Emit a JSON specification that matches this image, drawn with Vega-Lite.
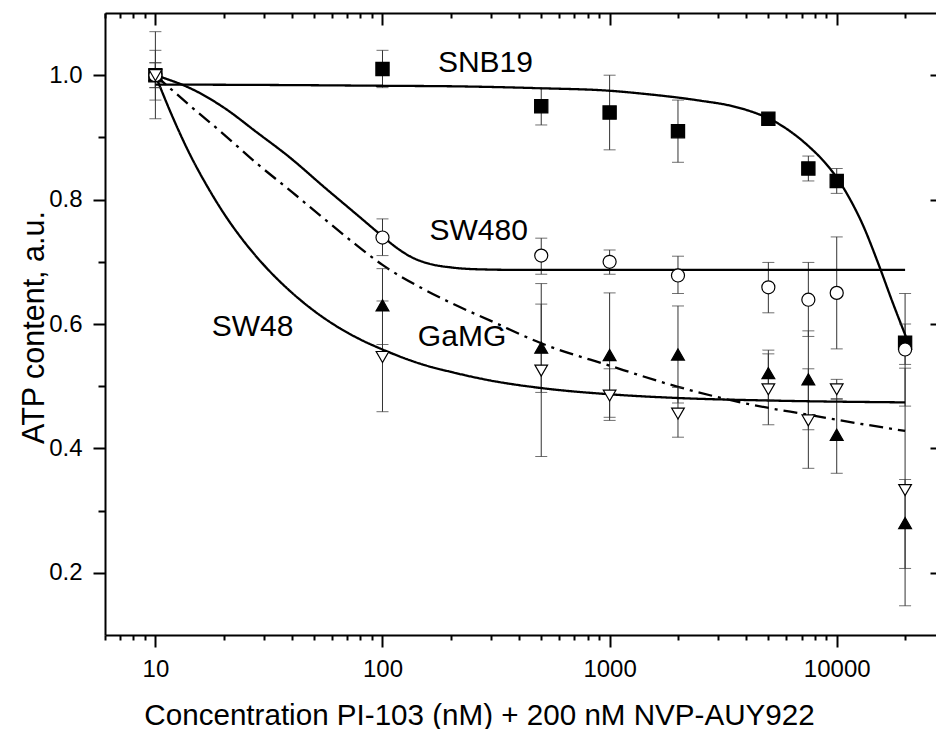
{
  "$schema": "https://vega.github.io/schema/vega-lite/v6.json",
  "width": 831,
  "height": 622,
  "autosize": {"type": "none"},
  "padding": {"left": 105, "top": 13, "right": 0, "bottom": 94},
  "background": "white",
  "config": {
    "view": {"stroke": null},
    "axis": {
      "grid": false,
      "domainColor": "black",
      "domainWidth": 2,
      "tickColor": "black",
      "tickWidth": 2,
      "labelColor": "black",
      "titleColor": "black",
      "labelFont": "Liberation Sans",
      "titleFont": "Liberation Sans",
      "titleFontWeight": "normal",
      "labelOverlap": false,
      "labelFlush": false
    }
  },
  "datasets": {
    "pts": [
      {"s": "SNB19", "c": 10, "v": 1.0, "lo": 0.98, "hi": 1.02},
      {"s": "SNB19", "c": 100, "v": 1.01, "lo": 0.98, "hi": 1.04},
      {"s": "SNB19", "c": 500, "v": 0.95, "lo": 0.92, "hi": 0.98},
      {"s": "SNB19", "c": 1000, "v": 0.94, "lo": 0.88, "hi": 1.0},
      {"s": "SNB19", "c": 2000, "v": 0.91, "lo": 0.86, "hi": 0.96},
      {"s": "SNB19", "c": 5000, "v": 0.93, "lo": 0.925, "hi": 0.935},
      {"s": "SNB19", "c": 7500, "v": 0.85, "lo": 0.83, "hi": 0.87},
      {"s": "SNB19", "c": 10000, "v": 0.83, "lo": 0.81, "hi": 0.85},
      {"s": "SNB19", "c": 20000, "v": 0.57, "lo": 0.535, "hi": 0.6},
      {"s": "GaMG", "c": 10, "v": 1.0, "lo": 0.96, "hi": 1.04},
      {"s": "GaMG", "c": 100, "v": 0.63, "lo": 0.567, "hi": 0.689},
      {"s": "GaMG", "c": 500, "v": 0.562, "lo": 0.49, "hi": 0.632},
      {"s": "GaMG", "c": 1000, "v": 0.55, "lo": 0.45, "hi": 0.65},
      {"s": "GaMG", "c": 2000, "v": 0.551, "lo": 0.473, "hi": 0.629},
      {"s": "GaMG", "c": 5000, "v": 0.521, "lo": 0.478, "hi": 0.558},
      {"s": "GaMG", "c": 7500, "v": 0.511, "lo": 0.43, "hi": 0.589},
      {"s": "GaMG", "c": 10000, "v": 0.422, "lo": 0.36, "hi": 0.48},
      {"s": "GaMG", "c": 20000, "v": 0.28, "lo": 0.207, "hi": 0.35},
      {"s": "SW480", "c": 10, "v": 1.0, "lo": 0.98, "hi": 1.02},
      {"s": "SW480", "c": 100, "v": 0.739, "lo": 0.71, "hi": 0.769},
      {"s": "SW480", "c": 500, "v": 0.71, "lo": 0.68, "hi": 0.738},
      {"s": "SW480", "c": 1000, "v": 0.7, "lo": 0.68, "hi": 0.719},
      {"s": "SW480", "c": 2000, "v": 0.678, "lo": 0.649, "hi": 0.709},
      {"s": "SW480", "c": 5000, "v": 0.659, "lo": 0.618, "hi": 0.699},
      {"s": "SW480", "c": 7500, "v": 0.639, "lo": 0.58, "hi": 0.699},
      {"s": "SW480", "c": 10000, "v": 0.65, "lo": 0.56, "hi": 0.74},
      {"s": "SW480", "c": 20000, "v": 0.559, "lo": 0.468, "hi": 0.649},
      {"s": "SW48", "c": 10, "v": 1.0, "lo": 0.93, "hi": 1.07},
      {"s": "SW48", "c": 100, "v": 0.547, "lo": 0.459, "hi": 0.637},
      {"s": "SW48", "c": 500, "v": 0.525, "lo": 0.387, "hi": 0.665},
      {"s": "SW48", "c": 1000, "v": 0.485, "lo": 0.445, "hi": 0.528},
      {"s": "SW48", "c": 2000, "v": 0.456, "lo": 0.418, "hi": 0.498},
      {"s": "SW48", "c": 5000, "v": 0.495, "lo": 0.438, "hi": 0.552},
      {"s": "SW48", "c": 7500, "v": 0.445, "lo": 0.368, "hi": 0.528},
      {"s": "SW48", "c": 10000, "v": 0.495, "lo": 0.479, "hi": 0.511},
      {"s": "SW48", "c": 20000, "v": 0.333, "lo": 0.147, "hi": 0.529}
    ],
    "curves": [
      {"s": "SNB19", "c": 10, "v": 0.985},
      {"s": "SNB19", "c": 43.5, "v": 0.984},
      {"s": "SNB19", "c": 100, "v": 0.983},
      {"s": "SNB19", "c": 220, "v": 0.982},
      {"s": "SNB19", "c": 500, "v": 0.979},
      {"s": "SNB19", "c": 1000, "v": 0.975},
      {"s": "SNB19", "c": 1512, "v": 0.969},
      {"s": "SNB19", "c": 2000, "v": 0.964},
      {"s": "SNB19", "c": 2511, "v": 0.959},
      {"s": "SNB19", "c": 3403, "v": 0.951},
      {"s": "SNB19", "c": 4169, "v": 0.942},
      {"s": "SNB19", "c": 5053, "v": 0.93},
      {"s": "SNB19", "c": 6254, "v": 0.9095},
      {"s": "SNB19", "c": 7584, "v": 0.8846},
      {"s": "SNB19", "c": 8826, "v": 0.8605},
      {"s": "SNB19", "c": 10174, "v": 0.8315},
      {"s": "SNB19", "c": 11490, "v": 0.7994},
      {"s": "SNB19", "c": 12978, "v": 0.7608},
      {"s": "SNB19", "c": 15263, "v": 0.6965},
      {"s": "SNB19", "c": 17596, "v": 0.6354},
      {"s": "SNB19", "c": 20273, "v": 0.5775},
      {"s": "SW480", "c": 10, "v": 1.0},
      {"s": "SW480", "c": 15, "v": 0.975},
      {"s": "SW480", "c": 20, "v": 0.948},
      {"s": "SW480", "c": 28, "v": 0.908},
      {"s": "SW480", "c": 39, "v": 0.868},
      {"s": "SW480", "c": 55, "v": 0.821},
      {"s": "SW480", "c": 77, "v": 0.776},
      {"s": "SW480", "c": 100, "v": 0.741},
      {"s": "SW480", "c": 115, "v": 0.723},
      {"s": "SW480", "c": 135, "v": 0.707},
      {"s": "SW480", "c": 160, "v": 0.697},
      {"s": "SW480", "c": 200, "v": 0.691},
      {"s": "SW480", "c": 260, "v": 0.688},
      {"s": "SW480", "c": 400, "v": 0.687},
      {"s": "SW480", "c": 20000, "v": 0.687},
      {"s": "SW48", "c": 10, "v": 1.0},
      {"s": "SW48", "c": 12, "v": 0.93},
      {"s": "SW48", "c": 14, "v": 0.877},
      {"s": "SW48", "c": 17, "v": 0.82},
      {"s": "SW48", "c": 20, "v": 0.778},
      {"s": "SW48", "c": 25, "v": 0.729},
      {"s": "SW48", "c": 30, "v": 0.695},
      {"s": "SW48", "c": 40, "v": 0.65},
      {"s": "SW48", "c": 50, "v": 0.621},
      {"s": "SW48", "c": 65, "v": 0.593},
      {"s": "SW48", "c": 80, "v": 0.575},
      {"s": "SW48", "c": 100, "v": 0.559},
      {"s": "SW48", "c": 150, "v": 0.535},
      {"s": "SW48", "c": 200, "v": 0.523},
      {"s": "SW48", "c": 300, "v": 0.509},
      {"s": "SW48", "c": 500, "v": 0.497},
      {"s": "SW48", "c": 1000, "v": 0.487},
      {"s": "SW48", "c": 2000, "v": 0.481},
      {"s": "SW48", "c": 5000, "v": 0.477},
      {"s": "SW48", "c": 20000, "v": 0.474},
      {"s": "GaMG", "c": 10, "v": 1.0},
      {"s": "GaMG", "c": 14, "v": 0.953},
      {"s": "GaMG", "c": 20, "v": 0.905},
      {"s": "GaMG", "c": 28, "v": 0.858},
      {"s": "GaMG", "c": 40, "v": 0.812},
      {"s": "GaMG", "c": 55, "v": 0.77},
      {"s": "GaMG", "c": 74.3, "v": 0.731},
      {"s": "GaMG", "c": 100, "v": 0.695},
      {"s": "GaMG", "c": 150, "v": 0.657},
      {"s": "GaMG", "c": 200, "v": 0.634},
      {"s": "GaMG", "c": 300, "v": 0.605},
      {"s": "GaMG", "c": 500, "v": 0.569},
      {"s": "GaMG", "c": 1000, "v": 0.533},
      {"s": "GaMG", "c": 2000, "v": 0.499},
      {"s": "GaMG", "c": 4000, "v": 0.472},
      {"s": "GaMG", "c": 7500, "v": 0.454},
      {"s": "GaMG", "c": 10000, "v": 0.446},
      {"s": "GaMG", "c": 20000, "v": 0.428}
    ],
    "labels": [
      {"t": "SNB19", "c": 284, "v": 1.005},
      {"t": "SW480", "c": 265, "v": 0.735},
      {"t": "GaMG", "c": 224, "v": 0.565},
      {"t": "SW48", "c": 26.8, "v": 0.581}
    ]
  },
  "resolve": {"axis": {"x": "independent", "y": "independent"}},
  "layer": [
    {
      "data": {"name": "pts"},
      "mark": {"type": "rule", "color": "#333333", "strokeWidth": 1},
      "encoding": {
        "x": {"field": "c", "type": "quantitative",
          "scale": {"type": "log", "domain": [6, 27360], "nice": false},
          "axis": {"orient": "bottom", "values": [6, 7, 8, 9, 20, 30, 40, 50, 60, 70, 80, 90, 200, 300, 400, 500, 600, 700, 800, 900, 2000, 3000, 4000, 5000, 6000, 7000, 8000, 9000, 20000],
            "tickSize": 5, "labels": false, "domain": false, "title": null}},
        "y": {"field": "lo", "type": "quantitative",
          "scale": {"domain": [0.1, 1.1], "nice": false, "zero": false},
          "axis": {"orient": "left", "values": [0.3, 0.5, 0.7, 0.9], "tickSize": 7, "labels": false, "domain": false, "title": null}},
        "y2": {"field": "hi"}
      }
    },
    {
      "data": {"name": "curves"},
      "mark": {"type": "line", "color": "black", "strokeWidth": 2.3, "interpolate": "monotone"},
      "encoding": {
        "x": {"field": "c", "type": "quantitative",
          "axis": {"orient": "bottom", "values": [10, 100, 1000, 10000], "format": "d", "tickSize": 12,
            "labelFontSize": 24, "labelPadding": 10, "domain": true,
            "title": "Concentration PI-103 (nM) + 200 nM NVP-AUY922", "titleFontSize": 29.6,
            "titleX": 374, "titleY": 89, "titleBaseline": "alphabetic", "titleAlign": "center", "titleAngle": 0}},
        "y": {"field": "v", "type": "quantitative",
          "axis": {"orient": "left", "values": [0.2, 0.4, 0.6, 0.8, 1.0], "format": ".1f", "tickSize": 12,
            "labelFontSize": 24, "labelPadding": 11, "domain": true,
            "title": "ATP content, a.u.", "titleFontSize": 30.5,
            "titleX": -62, "titleY": 314, "titleBaseline": "alphabetic", "titleAlign": "center", "titleAngle": -90}},
        "detail": {"field": "s"},
        "strokeDash": {"field": "s", "type": "nominal",
          "scale": {"domain": ["SNB19", "SW480", "SW48", "GaMG"], "range": [[1, 0], [1, 0], [1, 0], [14, 6, 3, 6]]},
          "legend": null}
      }
    },
    {
      "data": {"name": "pts"},
      "mark": {"type": "tick", "orient": "horizontal", "color": "#333333", "size": 12, "thickness": 1},
      "encoding": {
        "x": {"field": "c", "type": "quantitative",
          "axis": {"orient": "top", "values": [10, 100, 1000, 10000], "tickSize": -12, "labels": false, "domain": true, "title": null}},
        "y": {"field": "lo", "type": "quantitative",
          "axis": {"orient": "right", "values": [0.2, 0.4, 0.6, 0.8, 1.0], "tickSize": -6, "labels": false, "domain": false, "title": null}}
      }
    },
    {
      "data": {"name": "pts"},
      "mark": {"type": "tick", "orient": "horizontal", "color": "#333333", "size": 12, "thickness": 1},
      "encoding": {
        "x": {"field": "c", "type": "quantitative",
          "axis": {"orient": "top", "values": [6, 7, 8, 9, 20, 30, 40, 50, 60, 70, 80, 90, 200, 300, 400, 500, 600, 700, 800, 900, 2000, 3000, 4000, 5000, 6000, 7000, 8000, 9000, 20000],
            "tickSize": -5, "labels": false, "domain": false, "title": null}},
        "y": {"field": "hi", "type": "quantitative", "axis": null}
      }
    },
    {
      "data": {"name": "pts"},
      "mark": {"type": "point", "filled": true, "stroke": "black", "strokeWidth": 1.2, "opacity": 1},
      "encoding": {
        "x": {"field": "c", "type": "quantitative", "axis": null},
        "y": {"field": "v", "type": "quantitative", "axis": null},
        "shape": {"field": "s", "type": "nominal",
          "scale": {"domain": ["SNB19", "SW480", "GaMG", "SW48"], "range": ["square", "circle", "triangle-up", "triangle-down"]},
          "legend": null},
        "fill": {"field": "s", "type": "nominal",
          "scale": {"domain": ["SNB19", "SW480", "GaMG", "SW48"], "range": ["black", "white", "black", "white"]},
          "legend": null},
        "size": {"field": "s", "type": "nominal",
          "scale": {"domain": ["SNB19", "SW480", "GaMG", "SW48"], "range": [175, 160, 290, 290]},
          "legend": null}
      }
    },
    {
      "data": {"name": "labels"},
      "mark": {"type": "text", "font": "Liberation Sans", "fontSize": 30, "align": "center", "baseline": "alphabetic", "color": "black"},
      "encoding": {
        "x": {"field": "c", "type": "quantitative", "axis": null},
        "y": {"field": "v", "type": "quantitative", "axis": null},
        "text": {"field": "t"}
      }
    }
  ]
}
